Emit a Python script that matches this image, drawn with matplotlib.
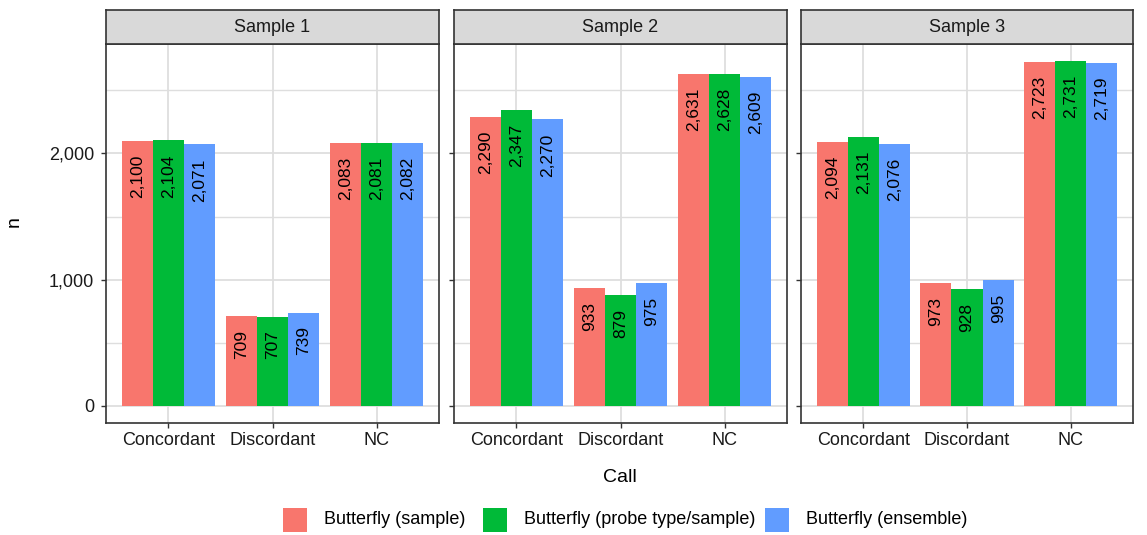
import numpy as np
import matplotlib
matplotlib.use("Agg")
import matplotlib.pyplot as plt
from matplotlib.patches import Rectangle
from matplotlib.ticker import FuncFormatter, MultipleLocator

plt.rcParams['font.family'] = ['Liberation Sans', 'DejaVu Sans']

samples = ['Sample 1', 'Sample 2', 'Sample 3']
calls = ['Concordant', 'Discordant', 'NC']
methods = ['Butterfly (sample)', 'Butterfly (probe type/sample)', 'Butterfly (ensemble)']
colors = ['#F8766D', '#00BA38', '#619CFF']

# counts[sample][method] -> values per call
sample1 = [[2100, 709, 2083], [2104, 707, 2081], [2071, 739, 2082]]
sample2 = [[2290, 933, 2631], [2347, 879, 2628], [2270, 975, 2609]]
sample3 = [[2094, 973, 2723], [2131, 928, 2731], [2076, 995, 2719]]
counts = [sample1, sample2, sample3]

W, H = 1147, 535
fig = plt.figure(figsize=(W / 100, H / 100), dpi=100)

panel_x = [(106, 439), (454, 787), (801, 1133)]
top, bottom, strip_top = 44, 423, 10
ymax = max(max(max(m) for m in s) for s in counts)
ylim = (-0.05 * ymax, 1.05 * ymax)
grid_c = '#DEDEDE'
edge_c = '#333333'

fmt = FuncFormatter(lambda v, p: f'{int(v):,}')

for i, (x0, x1) in enumerate(panel_x):
    ax = fig.add_axes([x0 / W, 1 - bottom / H, (x1 - x0) / W, (bottom - top) / H])
    ax.set_xlim(0.4, 3.6)
    ax.set_ylim(*ylim)
    ax.yaxis.set_major_locator(MultipleLocator(1000))
    ax.yaxis.set_minor_locator(MultipleLocator(500))
    ax.yaxis.set_major_formatter(fmt)
    ax.set_xticks([1, 2, 3])
    ax.set_xticklabels(calls)
    ax.grid(True, which='major', color=grid_c, lw=1.3, zorder=0)
    ax.grid(True, which='minor', axis='y', color=grid_c, lw=1.0, zorder=0)
    ax.set_axisbelow(True)
    ax.tick_params(axis='both', which='major', length=3.5, width=1, color=edge_c,
                   labelsize=13, labelcolor='#1a1a1a', pad=3)
    ax.tick_params(axis='y', which='minor', length=0)
    ax.tick_params(axis='y', pad=5)
    if i > 0:
        ax.tick_params(axis='y', labelleft=False)
    for sp in ax.spines.values():
        sp.set_color(edge_c)
        sp.set_linewidth(1.2)

    xs = np.arange(1, 4)
    bw = 0.3
    for j, vals in enumerate(counts[i]):
        pos = xs + (j - 1) * bw
        ax.bar(pos, vals, width=bw, color=colors[j], zorder=2)
        for px, v in zip(pos, vals):
            ax.annotate(f'{v:,}', xy=(px, v), xytext=(0, -10), textcoords='offset points',
                        rotation=90, ha='center', va='top', fontsize=12.5,
                        color='black', zorder=3)

    # facet strip
    sax = fig.add_axes([x0 / W, 1 - top / H, (x1 - x0) / W, (top - strip_top) / H])
    sax.set_xticks([])
    sax.set_yticks([])
    sax.set_facecolor('#D9D9D9')
    for sp in sax.spines.values():
        sp.set_color(edge_c)
        sp.set_linewidth(1.2)
    sax.text(0.5, 0.48, samples[i], ha='center', va='center', fontsize=13,
             color='#1a1a1a', transform=sax.transAxes)

fig.text(14 / W, 1 - 222 / H, 'n', rotation=90, ha='center', va='center', fontsize=14)
fig.text(620 / W, 1 - 478 / H, 'Call', ha='center', va='center', fontsize=14)

# legend at bottom
key = 24
legend_y = 520
key_x = [283, 483, 765]
for kx, c, lab in zip(key_x, colors, methods):
    fig.patches.append(Rectangle((kx / W, 1 - (legend_y + key / 2) / H), key / W, key / H,
                                 transform=fig.transFigure, facecolor=c, edgecolor='none'))
    fig.text((kx + key + 17) / W, 1 - legend_y / H, lab, ha='left', va='center', fontsize=13)

fig.savefig('out.png', dpi=100)
